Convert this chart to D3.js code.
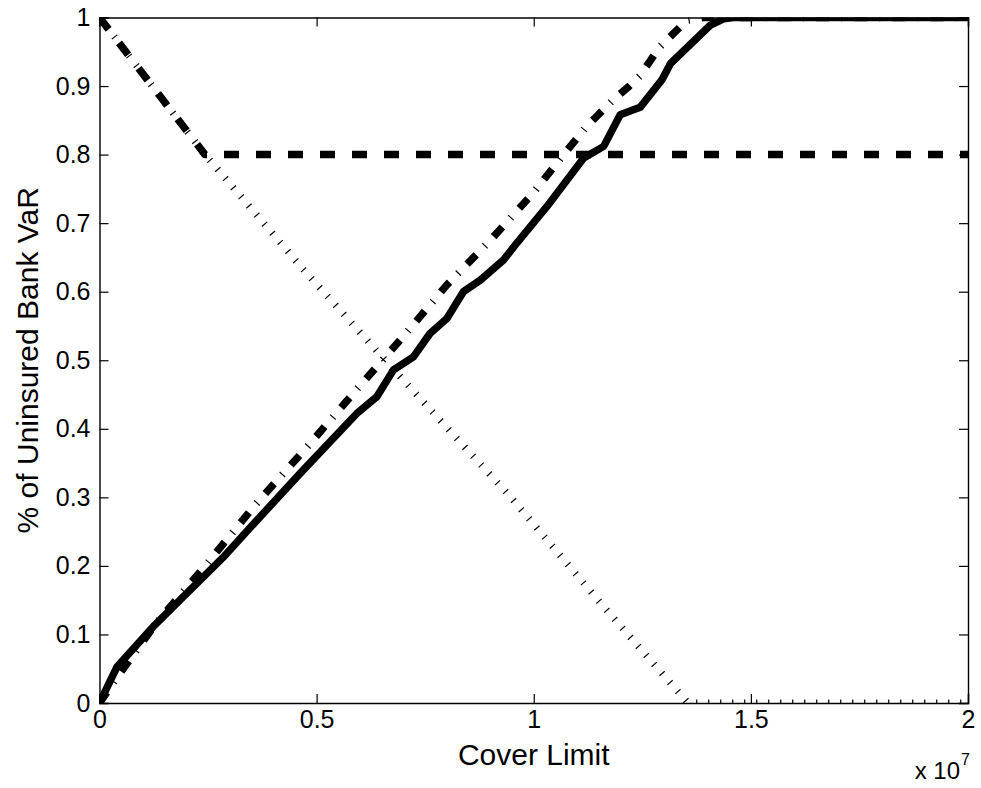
<!DOCTYPE html>
<html>
<head>
<meta charset="utf-8">
<script src="https://cdn.jsdelivr.net/npm/d3@7"></script>
<style>
  body { margin: 0; background: #fff; }
  svg { display: block; }
  text { font-family: "Liberation Sans", Arial, Helvetica, sans-serif; fill: #000; }
</style>
</head>
<body>
<svg id="chart" width="981" height="788"></svg>
<script>
// Axis ticks (cover limit in units of 10^7)
const xTicks = [0, 0.5, 1, 1.5, 2];
const yTicks = [0, 0.1, 0.2, 0.3, 0.4, 0.5, 0.6, 0.7, 0.8, 0.9, 1];
const xTickLabels = ["0", "0.5", "1", "1.5", "2"];
const yTickLabels = ["0", "0.1", "0.2", "0.3", "0.4", "0.5", "0.6", "0.7", "0.8", "0.9", "1"];
const xExponent = 7;

// Dotted curve
const dottedX = [0, 0.243, 0.47, 0.685, 0.946, 1.161, 1.355, 2];
const dottedY = [1, 0.8, 0.632, 0.481, 0.301, 0.1405, 0, 0];

// Dashed curve
const dashedX = [0, 0.243, 2];
const dashedY = [1, 0.8, 0.8];

// Dash-dot curve
const dashDotX = [0, 0.04, 0.13, 0.25, 0.36, 0.48, 0.6, 0.7, 0.8, 0.9, 1.0, 1.06, 1.12, 1.18, 1.22, 1.245, 1.29, 1.353, 1.39, 2];
const dashDotY = [0, 0.037, 0.116, 0.205, 0.29, 0.375, 0.463, 0.535, 0.61, 0.675, 0.745, 0.793, 0.84, 0.878, 0.9, 0.915, 0.957, 0.996, 1, 1];

// Solid curve
const solidX = [0, 0.04, 0.123, 0.284, 0.356, 0.462, 0.592, 0.639, 0.677, 0.723, 0.761, 0.80, 0.838, 0.877, 0.930, 0.961, 1.030, 1.115, 1.161, 1.199, 1.245, 1.295, 1.315, 1.407, 1.437, 1.46, 2];
const solidY = [0, 0.0525, 0.111, 0.212, 0.262, 0.335, 0.422, 0.447, 0.486, 0.505, 0.539, 0.561, 0.600, 0.617, 0.646, 0.671, 0.724, 0.795, 0.812, 0.858, 0.869, 0.909, 0.933, 0.989, 0.998, 1, 1];

const svg = d3.select("#chart");
const margin = { left: 99.5, right: 13, top: 17.5, bottom: 85 };
const W = 981, H = 788;
const plotW = W - margin.left - margin.right;
const plotH = H - margin.top - margin.bottom;

const x = d3.scaleLinear().domain([0, 2]).range([0, plotW]);
const y = d3.scaleLinear().domain([0, 1]).range([plotH, 0]);

const g = svg.append("g").attr("transform", `translate(${margin.left},${margin.top})`);

g.append("defs").append("clipPath").attr("id", "plotClip")
  .append("rect").attr("x", 0).attr("y", 0).attr("width", plotW).attr("height", plotH);

const line = d3.line().x(d => x(d[0])).y(d => y(d[1]));
const zip = (xs, ys) => xs.map((v, i) => [v, ys[i]]);

const series = [
  { data: zip(dottedX, dottedY), dash: "1.2,10.8", width: 7 },
  { data: zip(dashedX, dashedY), dash: "15,17", width: 7.5 },
  { data: zip(dashDotX, dashDotY), dash: "13,12,1.2,12", width: 7.5 },
  { data: zip(solidX, solidY), dash: null, width: 7.5 }
];

const lines = g.append("g").attr("clip-path", "url(#plotClip)");
series.forEach(s => {
  lines.append("path")
    .datum(s.data)
    .attr("d", line)
    .attr("fill", "none")
    .attr("stroke", "#000")
    .attr("stroke-width", s.width)
    .attr("stroke-linejoin", "round")
    .attr("stroke-linecap", "butt")
    .attr("stroke-dasharray", s.dash);
});

// Axes: ticks pointing inward on all four sides
const tickLen = 9;
const fs = 25;

const xAxisB = d3.axisBottom(x).tickValues(xTicks).tickSize(-tickLen).tickPadding(7)
  .tickFormat((d, i) => xTickLabels[i]);
const xAxisT = d3.axisTop(x).tickValues(xTicks).tickSize(-tickLen).tickFormat("");
const yAxisL = d3.axisLeft(y).tickValues(yTicks).tickSize(-tickLen).tickPadding(9)
  .tickFormat((d, i) => yTickLabels[i]);
const yAxisR = d3.axisRight(y).tickValues(yTicks).tickSize(-tickLen).tickFormat("");

function styleAxis(sel) {
  sel.select(".domain").attr("stroke", "#000").attr("stroke-width", 1.4);
  sel.selectAll(".tick line").attr("stroke", "#000").attr("stroke-width", 1.2);
  sel.selectAll(".tick text").attr("font-size", fs).attr("font-family", null);
}

g.append("g").attr("transform", `translate(0,${plotH})`).call(xAxisB).call(styleAxis);
g.append("g").call(xAxisT).call(styleAxis);
g.append("g").call(yAxisL).call(styleAxis);
g.append("g").attr("transform", `translate(${plotW},0)`).call(yAxisR).call(styleAxis);

// Axis titles
svg.append("text")
  .attr("x", margin.left + plotW / 2)
  .attr("y", 765)
  .attr("text-anchor", "middle")
  .attr("font-size", 30)
  .text("Cover Limit");

svg.append("text")
  .attr("transform", `translate(38,${margin.top + plotH / 2}) rotate(-90)`)
  .attr("text-anchor", "middle")
  .attr("font-size", 30)
  .text("% of Uninsured Bank VaR");

// Exponent multiplier for the x axis
svg.append("text")
  .attr("x", 960)
  .attr("y", 779)
  .attr("text-anchor", "end")
  .attr("font-size", 24)
  .text("x 10");
svg.append("text")
  .attr("x", 961)
  .attr("y", 765)
  .attr("font-size", 16)
  .text(String(xExponent));
</script>
</body>
</html>
